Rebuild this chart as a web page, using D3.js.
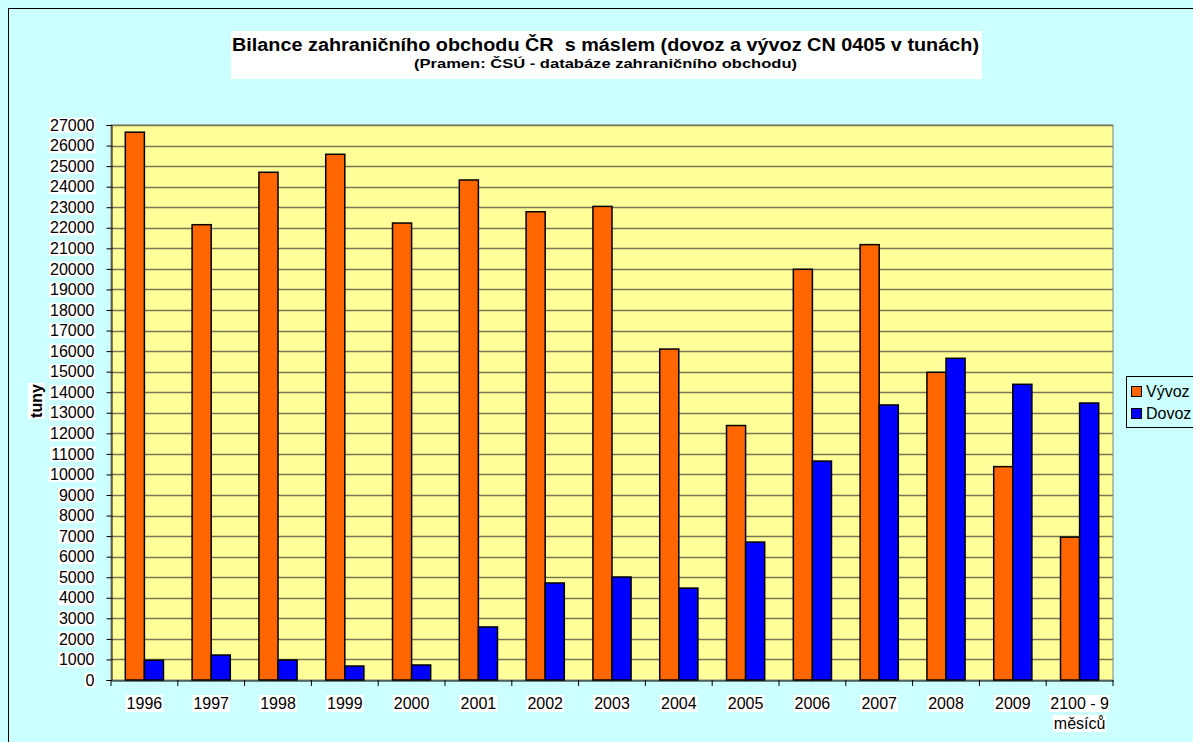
<!DOCTYPE html>
<html><head><meta charset="utf-8">
<script src="https://cdn.jsdelivr.net/npm/d3@7"></script>
<style>body{margin:0;background:#ccffff;}svg{display:block;font-family:"Liberation Sans",Arial,sans-serif;}</style>
</head><body><svg id="c" width="1193" height="742"></svg>
<script>
const categories = ["1996","1997","1998","1999","2000","2001","2002","2003","2004","2005","2006","2007","2008","2009","2100 - 9|měsíců"];
const vyvoz = [26650,22150,24700,25575,22230,24325,22780,23040,16100,12380,19980,21180,14970,10380,6950];
const dovoz = [960,1215,970,680,730,2580,4720,5010,4470,6710,10650,13380,15650,14385,13475];
const yTicks = d3.range(0,27001,1000);
const seriesNames = ["Vývoz","Dovoz"];
const colors = ["#ff6600","#0000ff"];

const svg = d3.select("#c");
svg.append("rect").attr("x",0).attr("y",0).attr("width",1193).attr("height",742).attr("fill","#ccffff");
svg.append("rect").attr("x",8.5).attr("y",8.5).attr("width",1200).attr("height",760).attr("fill","none").attr("stroke","#000").attr("stroke-width",1);

function boxed(parent, attrs, txt, bold){
  const g = parent.append("g");
  const t = g.append("text");
  Object.entries(attrs).forEach(([k,v])=>t.attr(k,v));
  t.text(txt);
  if(bold) t.attr("font-weight","bold");
  const bb=t.node().getBBox();
  g.insert("rect","text").attr("x",bb.x-1).attr("y",bb.y).attr("width",bb.width+2).attr("height",bb.height).attr("fill","#fff");
  return g;
}

const L=111,R=1113,T=125,B=680;
const x = d3.scaleBand().domain(categories).range([L,R]).paddingInner(0).paddingOuter(0);
const y = d3.scaleLinear().domain([0,27000]).range([B,T]);
const bw = x.bandwidth()/3.5;

svg.append("rect").attr("x",L).attr("y",T).attr("width",R-L).attr("height",B-T).attr("fill","#ffff99").attr("stroke","#808080");
svg.append("g").selectAll("line").data(yTicks.filter(d=>d>0)).join("line")
  .attr("x1",L).attr("x2",R).attr("y1",d=>Math.round(y(d))+0.5).attr("y2",d=>Math.round(y(d))+0.5)
  .attr("stroke","#777755").attr("stroke-width",1.3);

const series=[vyvoz,dovoz];
series.forEach((s,si)=>{
  svg.append("g").selectAll("rect").data(s).join("rect")
    .attr("x",(d,i)=>x(categories[i])+bw*0.75+si*bw)
    .attr("y",d=>y(d)).attr("width",bw).attr("height",d=>B-y(d))
    .attr("fill",colors[si]).attr("stroke","#000").attr("stroke-width",1.5);
});

// y axis
const ya = svg.append("g").attr("transform",`translate(${L+0.5},0)`).call(d3.axisLeft(y).tickValues(yTicks).tickSize(5).tickPadding(12).tickFormat(d3.format("d")));
ya.select(".domain").attr("stroke","#000");
ya.selectAll(".tick line").attr("stroke","#000");
ya.selectAll(".tick text").style("font-size","16px").attr("fill","#000").style("font-family","'Liberation Sans', Arial");
ya.selectAll(".tick").each(function(){
  const g=d3.select(this), t=g.select("text"), bb=t.node().getBBox();
  g.insert("rect","text").attr("x",bb.x-1).attr("y",bb.y+1).attr("width",bb.width+2).attr("height",bb.height-2).attr("fill","#fff");
});
// x axis
const xa = svg.append("g").attr("transform",`translate(0,${B+0.5})`).call(d3.axisBottom(x).tickSize(0).tickFormat(""));
xa.select(".domain").attr("stroke","#000");
svg.append("g").selectAll("line").data(d3.range(categories.length+1)).join("line")
  .attr("x1",i=>L+i*x.bandwidth()).attr("x2",i=>L+i*x.bandwidth()).attr("y1",B).attr("y2",B+6).attr("stroke","#000");
const xl = svg.append("g");
categories.forEach(c=>{
  c.split("|").forEach((p,pi)=>{
    boxed(xl,{x:x(c)+x.bandwidth()/2,y:709+pi*20,"text-anchor":"middle","font-size":16},p);
  });
});

// y title
boxed(svg.append("g").attr("transform","translate(42,401) rotate(-90)"),{x:0,y:0,"text-anchor":"middle","font-size":16},"tuny",true);

// title
svg.append("rect").attr("x",231).attr("y",31).attr("width",751).attr("height",48).attr("fill","#fff");
svg.append("text").attr("x",232).attr("y",51).attr("font-size",17.5).attr("font-weight","bold").style("white-space","pre")
  .attr("textLength",747).attr("lengthAdjust","spacingAndGlyphs")
  .text("Bilance zahraničního obchodu ČR  s máslem (dovoz a vývoz CN 0405 v tunách)");
svg.append("text").attr("x",414).attr("y",68).attr("font-size",13).attr("font-weight","bold")
  .attr("textLength",383).attr("lengthAdjust","spacingAndGlyphs")
  .text("(Pramen: ČSÚ - databáze zahraničního obchodu)");

// legend
svg.append("rect").attr("x",1126.5).attr("y",376.5).attr("width",80).attr("height",51).attr("fill","#ccffff").attr("stroke","#000");
seriesNames.forEach((n,i)=>{
  svg.append("rect").attr("x",1131.5).attr("y",386.5+i*22).attr("width",10).attr("height",10).attr("fill",colors[i]).attr("stroke","#000");
  svg.append("text").attr("x",1146).attr("y",397+i*22).attr("font-size",16).text(n);
});
</script></body></html>
